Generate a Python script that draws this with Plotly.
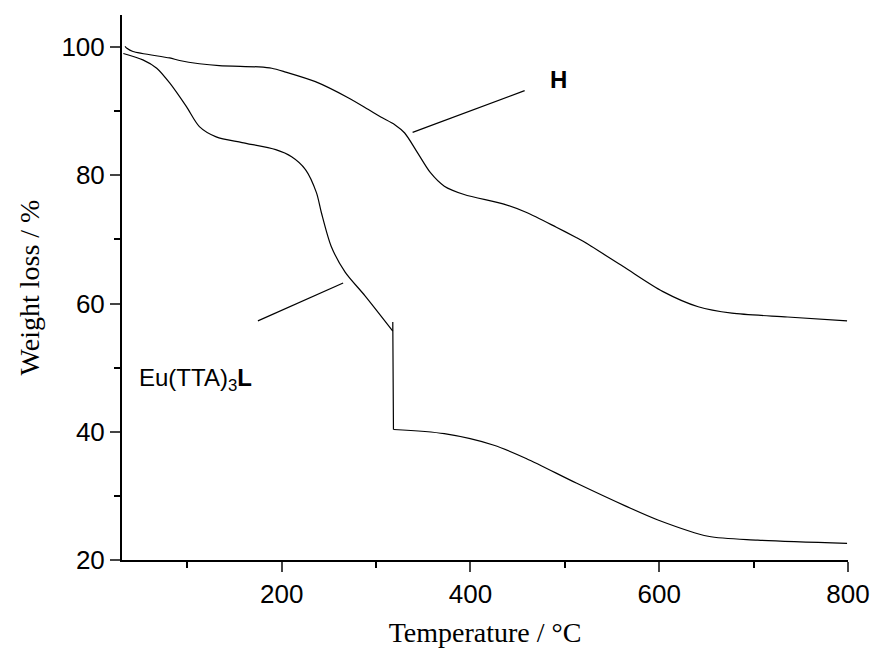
import plotly.graph_objects as go

# H curve
h_temp = [34, 36, 42.4, 81.3, 91.8, 112.8, 133.8, 175.8, 189.5, 204.2, 235.7, 270.4, 291.4, 305,
          319.8, 330.3, 344, 357.6, 372.3, 393.3, 435.4, 459.5, 491, 512, 519.4, 561.5, 603.5,
          641.3, 677, 735.9, 799]
h_weight = [100.1, 99.8, 99.3, 98.3, 97.9, 97.4, 97.1, 96.9, 96.7, 96.1, 94.6, 92.1, 90.3, 89.1,
            87.9, 86.6, 83.5, 80.4, 78.3, 77.0, 75.5, 74.2, 71.9, 70.3, 69.7, 65.8, 61.9,
            59.5, 58.5, 57.9, 57.3]

# Eu(TTA)3L curve
eu_temp = [32.2, 52.9, 67.6, 81.3, 99.1, 112.8, 130.6, 158, 193.7, 210.5, 225.2, 236.8, 242,
           252.5, 267.2, 288.3, 317.7, 317.7, 318.4, 318.7, 372.3, 424.9, 459.5, 512.1, 564.6,
           599.3, 651.8, 704.4, 799]
eu_weight = [99.0, 98.0, 96.7, 94.4, 90.7, 87.6, 86.0, 85.1, 84.0, 82.9, 80.9, 77.3, 74.2,
             68.9, 64.9, 61.2, 55.7, 57.1, 40.4, 40.35, 39.7, 37.9, 35.8, 32.0, 28.4,
             26.2, 23.7, 23.1, 22.6]

x_ticks = [200, 400, 600, 800]
y_ticks = [20, 40, 60, 80, 100]

line_style = dict(color="black", width=1.2)
fig = go.Figure()
fig.add_trace(go.Scatter(x=h_temp, y=h_weight, mode="lines",
                         line=dict(**line_style, shape="spline", smoothing=0.8),
                         showlegend=False))
# Eu curve drawn in three pieces: smooth decline, sudden drop, smooth tail
fig.add_trace(go.Scatter(x=eu_temp[:17], y=eu_weight[:17], mode="lines",
                         line=dict(**line_style, shape="spline", smoothing=0.8),
                         showlegend=False))
fig.add_trace(go.Scatter(x=eu_temp[16:20], y=eu_weight[16:20], mode="lines",
                         line=line_style, showlegend=False))
fig.add_trace(go.Scatter(x=eu_temp[19:], y=eu_weight[19:], mode="lines",
                         line=dict(**line_style, shape="spline", smoothing=0.8),
                         showlegend=False))

# pointer lines
fig.add_shape(type="line", x0=338.7, y0=86.7, x1=457.4, y1=93.2,
              line=dict(color="black", width=1.2))
fig.add_shape(type="line", x0=174.8, y0=57.3, x1=265.1, y1=63.2,
              line=dict(color="black", width=1.2))

fig.add_annotation(x=493, y=95.0, text="<b>H</b>", showarrow=False,
                   font=dict(family="Liberation Sans, Arial", size=24, color="black"))
fig.add_annotation(x=47, y=48.1, text="Eu(TTA)<sub>3</sub><b>L</b>", showarrow=False,
                   xanchor="left",
                   font=dict(family="Liberation Sans, Arial", size=24, color="black"))

fig.update_layout(
    width=882, height=655,
    margin=dict(l=122, r=28, t=15, b=93),
    paper_bgcolor="white", plot_bgcolor="white",
    xaxis=dict(
        range=[30.8, 800], tickvals=x_ticks, ticks="outside", ticklen=10, tickwidth=2,
        showline=True, linewidth=2, linecolor="black", showgrid=False, zeroline=False,
        minor=dict(tickvals=[100, 300, 500, 700], ticks="outside", ticklen=6, tickwidth=2,
                   tickcolor="black"),
        tickfont=dict(family="Liberation Sans, Arial", size=26, color="black"),
        title=dict(text="Temperature / °C", standoff=14,
                   font=dict(family="Liberation Serif, Times New Roman", size=28, color="black")),
    ),
    yaxis=dict(
        range=[20, 105], tickvals=y_ticks, ticks="outside", ticklen=10, tickwidth=2,
        showline=True, linewidth=2, linecolor="black", showgrid=False, zeroline=False,
        minor=dict(tickvals=[30, 50, 70, 90], ticks="outside", ticklen=6, tickwidth=2,
                   tickcolor="black"),
        tickfont=dict(family="Liberation Sans, Arial", size=26, color="black"),
        title=dict(text="Weight loss / %", standoff=14,
                   font=dict(family="Liberation Serif, Times New Roman", size=28, color="black")),
    ),
)

fig.write_html("out.html")
